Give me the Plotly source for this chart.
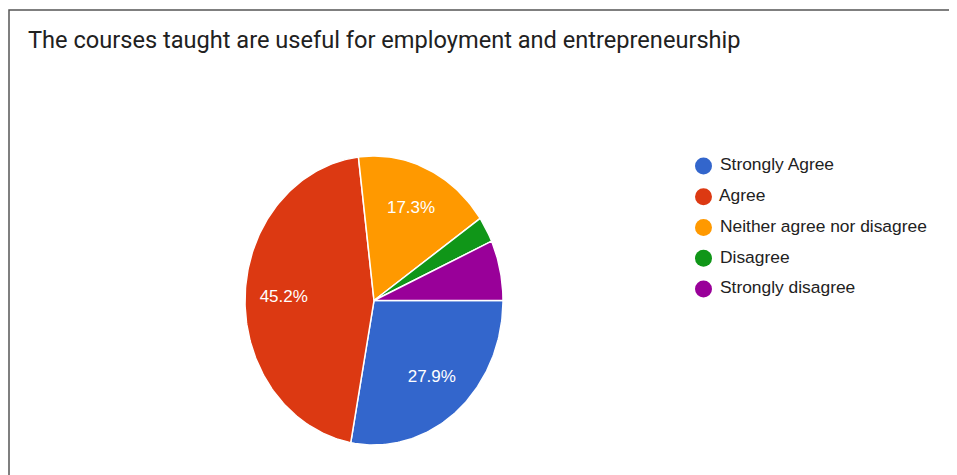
import numpy as np
import plotly.graph_objects as go

categories = ["Strongly Agree", "Agree", "Neither agree nor disagree", "Disagree", "Strongly disagree"]
counts = [29, 47, 18, 3, 7]
colors = ["#3366cc", "#dc3912", "#ff9900", "#109618", "#990099"]
title_text = "The courses taught are useful for employment and entrepreneurship"

W, H = 957, 475
total = sum(counts)
shares = [c / total for c in counts]

fig = go.Figure()

# Pie slices drawn on their own axes (x2/y2), starting at 3 o'clock and running clockwise
cum = 0.0
for cat, share, col in zip(categories, shares, colors):
    t0 = -2 * np.pi * cum
    t1 = -2 * np.pi * (cum + share)
    n = max(int(share * 400), 4)
    th = np.linspace(t0, t1, n)
    xs = np.concatenate([[0.0], np.cos(th), [0.0]])
    ys = np.concatenate([[0.0], np.sin(th), [0.0]])
    fig.add_trace(go.Scatter(
        x=xs, y=ys, xaxis="x2", yaxis="y2", mode="lines", fill="toself",
        fillcolor=col, line=dict(color="white", width=1.5),
        name=cat, showlegend=False, hoverinfo="name",
    ))
    cum += share

# Percentage labels inside the larger slices
cum = 0.0
lx, ly, lt = [], [], []
for share in shares:
    mid = -2 * np.pi * (cum + share / 2)
    if share >= 0.1:
        lx.append(0.7 * np.cos(mid))
        ly.append(0.7 * np.sin(mid))
        lt.append(f"{share * 100:.1f}%")
    cum += share
fig.add_trace(go.Scatter(
    x=lx, y=ly, xaxis="x2", yaxis="y2", mode="text", text=lt,
    textposition="middle center",
    textfont=dict(family="Liberation Sans, Arial", size=17, color="white"),
    showlegend=False, hoverinfo="skip",
))

# Legend drawn as circle markers with labels
rows = list(range(len(categories)))
fig.add_trace(go.Scatter(
    x=[0] * len(categories), y=rows, mode="markers+text",
    marker=dict(color=colors, size=17, symbol="circle", line=dict(width=0)),
    text=[" " + c for c in categories], textposition="middle right",
    textfont=dict(family="Liberation Sans, Arial", size=17.4, color="#222222"),
    showlegend=False, hoverinfo="skip", cliponaxis=False,
))

cx, cy, rx, ry = 366, 292.5, 129, 144.5  # pie box in figure pixels
bx, by = 1 / W, 1 - 2 / H
fig.update_layout(
    width=W, height=H, margin=dict(l=0, r=0, t=0, b=0),
    paper_bgcolor="white", plot_bgcolor="rgba(0,0,0,0)",
    xaxis=dict(visible=False, range=[-695.5, W - 695.5], domain=[0, 1], fixedrange=True),
    yaxis=dict(visible=False, range=[(H - 158) / 30.75, -158 / 30.75], domain=[0, 1], fixedrange=True),
    xaxis2=dict(visible=False, range=[-1, 1], domain=[(cx - rx) / W, (cx + rx) / W],
                anchor="y2", fixedrange=True),
    yaxis2=dict(visible=False, range=[-1, 1], domain=[(H - cy - ry) / H, (H - cy + ry) / H],
                anchor="x2", fixedrange=True),
    shapes=[dict(type="path", xref="paper", yref="paper",
                 path=f"M {bx},-0.05 L {bx},{by} L 1.05,{by}",
                 line=dict(color="#555555", width=1.5))],
    annotations=[dict(text=title_text, xref="paper", yref="paper",
                      x=18 / W, y=1 - 32 / H, xanchor="left", yanchor="middle",
                      showarrow=False,
                      font=dict(family="Roboto", size=23.6, color="#212121"))],
)

fig.write_html("out.html")
